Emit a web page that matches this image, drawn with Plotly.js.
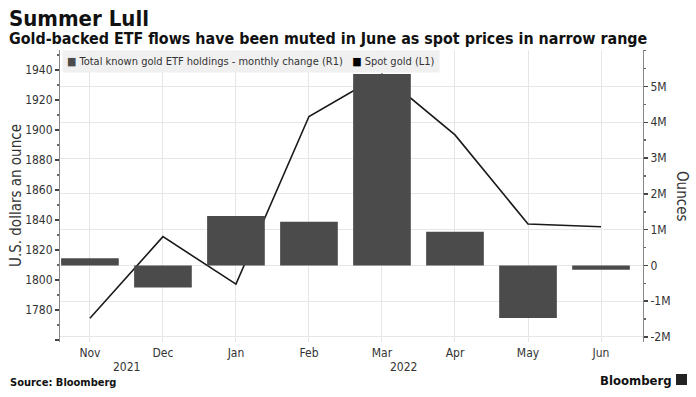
<!DOCTYPE html>
<html>
<head>
<meta charset="utf-8">
<script src="https://cdn.plot.ly/plotly-3.0.1.min.js"></script>
<style>html,body{margin:0;padding:0;background:#fff;}#chart{width:696px;height:397px;}</style>
</head>
<body>
<div id="chart"></div>
<script>
const months = ["Nov","Dec","Jan","Feb","Mar","Apr","May","Jun"];
const spotGold = [1774.5, 1828.9, 1797.3, 1909.0, 1937.1, 1896.7, 1837.3, 1835.5];
const etfChangeM = [0.20, -0.62, 1.38, 1.22, 5.35, 0.94, -1.47, -0.12];
const leftTicks = [1760, 1780, 1800, 1820, 1840, 1860, 1880, 1900, 1920, 1940];
const leftTickText = ["", "1780", "1800", "1820", "1840", "1860", "1880", "1900", "1920", "1940"];
const rightTicks = [-2, -1, 0, 1, 2, 3, 4, 5];
const rightTickText = ["-2M", "-1M", "0", "1M", "2M", "3M", "4M", "5M"];
const yearLabels = ["2021", "2022"];

const F = "DejaVu Sans Condensed, DejaVu Sans, sans-serif";
const xIdx = months.map((m, i) => i);

const traces = [
  {
    type: "bar", x: xIdx, y: etfChangeM, yaxis: "y2", width: 0.79,
    marker: {color: "#4b4b4b", line: {width: 0}}, showlegend: false, hoverinfo: "skip"
  },
  {
    type: "scatter", mode: "lines", x: xIdx, y: spotGold, yaxis: "y",
    line: {color: "#1a1a1a", width: 1.6}, showlegend: false, hoverinfo: "skip"
  }
];

const layout = {
  width: 696, height: 397,
  margin: {l: 60, r: 53, t: 50, b: 55},
  paper_bgcolor: "#ffffff", plot_bgcolor: "#ffffff",
  font: {family: F, size: 12, color: "#333"},
  xaxis: {
    range: [-0.41, 7.575], tickvals: xIdx, ticktext: months,
    showgrid: true, gridcolor: "#e6e6e6", gridwidth: 1,
    zeroline: false, showline: false, ticks: "", ticklabelstandoff: 2,
    tickfont: {family: F, size: 12, color: "#333"}, fixedrange: true
  },
  yaxis: {
    range: [1758.7, 1953.3], tickvals: leftTicks, ticktext: leftTickText,
    showgrid: false, zeroline: false,
    showline: true, linecolor: "#888", linewidth: 1,
    ticks: "outside", ticklen: 4, tickwidth: 1.5, tickcolor: "#444",
    minor: {dtick: 10, ticks: "outside", ticklen: 2, tickcolor: "#666", showgrid: false},
    tickfont: {family: F, size: 12, color: "#333"}, fixedrange: true
  },
  yaxis2: {
    overlaying: "y", side: "right",
    range: [-2.14, 6.02], tickvals: rightTicks, ticktext: rightTickText,
    showgrid: true, gridcolor: "#e6e6e6", gridwidth: 1, zeroline: false,
    showline: true, linecolor: "#888", linewidth: 1,
    ticks: "outside", ticklen: 4, tickwidth: 1.5, tickcolor: "#444",
    minor: {dtick: 0.5, ticks: "outside", ticklen: 2, tickcolor: "#666", showgrid: false},
    tickfont: {family: F, size: 12, color: "#333"}, fixedrange: true
  },
  annotations: [
    {xref: "paper", yref: "paper", x: -60/583, y: 1 + 50/292, xanchor: "left", yanchor: "top",
     text: "<b>Summer Lull</b>", showarrow: false, xshift: 7, yshift: -4,
     font: {family: F, size: 22, color: "#111"}},
    {xref: "paper", yref: "paper", x: -60/583, y: 1 + 50/292, xanchor: "left", yanchor: "top",
     text: "<b>Gold-backed ETF flows have been muted in June as spot prices in narrow range</b>", showarrow: false,
     xshift: 7, yshift: -27, font: {family: F, size: 15.9, color: "#111"}},
    {xref: "paper", yref: "paper", x: 0, y: 1, xanchor: "left", yanchor: "top", xshift: 2,
     text: "<span style='color:#4b4b4b'>■</span> Total known gold ETF holdings - monthly change (R1)   <span style='color:#000'>■</span> Spot gold (L1)",
     showarrow: false, bgcolor: "#f0f0f0", borderpad: 4,
     font: {family: F, size: 11, color: "#333"}},
    {xref: "paper", yref: "paper", x: -60/583, y: 0.5, xanchor: "left", yanchor: "middle", xshift: 5,
     text: "U.S. dollars an ounce", textangle: -90, showarrow: false,
     font: {family: F, size: 15, color: "#333"}},
    {xref: "paper", yref: "paper", x: 1 + 53/583, y: 0.5, xanchor: "right", yanchor: "middle", xshift: -3,
     text: "Ounces", textangle: 90, showarrow: false,
     font: {family: F, size: 15, color: "#333"}},
    {xref: "x", yref: "paper", x: 0.5, y: 0, yanchor: "top", yshift: -16,
     text: yearLabels[0], showarrow: false, font: {family: F, size: 12, color: "#333"}},
    {xref: "x", yref: "paper", x: 4.3, y: 0, yanchor: "top", yshift: -16,
     text: yearLabels[1], showarrow: false, font: {family: F, size: 12, color: "#333"}},
    {xref: "paper", yref: "paper", x: -60/583, y: 0, xanchor: "left", yanchor: "top", xshift: 8, yshift: -32,
     text: "<b>Source: Bloomberg</b>", showarrow: false, font: {family: F, size: 11, color: "#111"}},
    {xref: "paper", yref: "paper", x: 1 + 53/583, y: 0, xanchor: "right", yanchor: "top", xshift: -22, yshift: -29,
     text: "<b>Bloomberg</b>", showarrow: false, font: {family: F, size: 13, color: "#111"}}
  ],
  shapes: [
    {type: "rect", xref: "paper", yref: "paper",
     x0: 1 + 33/583, x1: 1 + 44/583, y0: -32/292, y1: -43/292,
     fillcolor: "#222", line: {width: 0}}
  ]
};

Plotly.newPlot("chart", traces, layout, {displayModeBar: false, staticPlot: true});
</script>
</body>
</html>
